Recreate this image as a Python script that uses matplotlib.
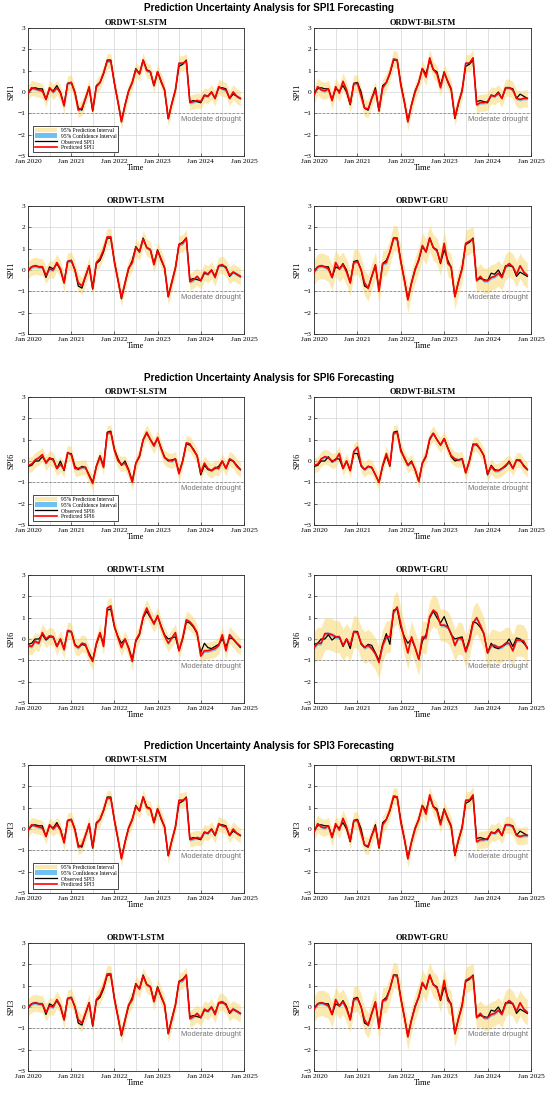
import matplotlib
matplotlib.use('Agg')
import matplotlib.pyplot as plt
import matplotlib.dates as mdates
import matplotlib.transforms as mtransforms
from matplotlib.patches import Patch
from matplotlib.lines import Line2D
import numpy as np
import pandas as pd

# ---------------- data ----------------
months = pd.date_range('2020-01-01', periods=60, freq='MS')

models = ['ORDWT-SLSTM', 'ORDWT-BiLSTM', 'ORDWT-LSTM', 'ORDWT-GRU']
sections = ['SPI1', 'SPI6', 'SPI3']

spi1_observed = [-0.05, 0.15, 0.2, 0.15, 0.15, -0.35, 0.15, 0.05, 0.3, 0.0, -0.6, 0.4,
                 0.45, 0.0, -0.75, -0.85, -0.3, 0.2, -0.9, 0.3, 0.45, 0.85, 1.5, 1.5,
                 0.4, -0.5, -1.35, -0.6, 0.05, 0.45, 1.1, 0.85, 1.5, 1.05, 0.95, 0.3,
                 0.95, 0.45, 0.1, -1.25, -0.55, 0.1, 1.2, 1.3, 1.5, -0.45, -0.4, -0.45,
                 -0.5, -0.15, -0.2, 0.0, -0.3, 0.2, 0.2, 0.15, -0.3, -0.1, -0.2, -0.3]
spi1_pred_slstm = [-0.05, 0.2, 0.15, 0.1, 0.05, -0.35, 0.2, 0.0, 0.2, -0.05, -0.65, 0.4,
                   0.45, -0.05, -0.85, -0.75, -0.3, 0.25, -0.85, 0.25, 0.45, 0.9, 1.45, 1.45,
                   0.4, -0.5, -1.4, -0.6, 0.05, 0.45, 1.05, 0.85, 1.5, 1.0, 0.95, 0.3,
                   0.95, 0.5, 0.1, -1.25, -0.55, 0.1, 1.35, 1.35, 1.45, -0.5, -0.45, -0.4,
                   -0.45, -0.15, -0.2, 0.0, -0.3, 0.25, 0.15, 0.1, -0.3, 0.0, -0.2, -0.3]
spi1_pred_bilstm = [-0.15, 0.25, 0.1, 0.05, 0.15, -0.4, 0.25, -0.05, 0.5, 0.1, -0.55, 0.4,
                    0.4, -0.2, -0.75, -0.8, -0.3, 0.1, -0.85, 0.2, 0.45, 0.9, 1.55, 1.5,
                    0.3, -0.5, -1.4, -0.6, 0.0, 0.45, 1.1, 0.7, 1.6, 1.05, 0.85, 0.2,
                    0.9, 0.5, 0.15, -1.2, -0.5, 0.05, 1.35, 1.35, 1.6, -0.6, -0.5, -0.5,
                    -0.45, -0.15, -0.2, -0.05, -0.3, 0.2, 0.2, 0.1, -0.3, -0.35, -0.3, -0.3]
spi1_pred_lstm = [0.0, 0.15, 0.2, 0.15, 0.15, -0.25, 0.05, 0.0, 0.35, 0.05, -0.6, 0.4,
                  0.45, 0.0, -0.6, -0.75, -0.3, 0.2, -0.85, 0.35, 0.55, 0.95, 1.55, 1.55,
                  0.35, -0.5, -1.3, -0.6, 0.1, 0.35, 1.05, 0.85, 1.45, 1.05, 0.95, 0.25,
                  0.9, 0.5, 0.1, -1.25, -0.6, 0.1, 1.2, 1.25, 1.5, -0.55, -0.45, -0.3,
                  -0.5, -0.1, -0.2, 0.0, -0.35, 0.2, 0.25, 0.1, -0.25, -0.1, -0.2, -0.3]
spi1_pred_gru = [-0.1, 0.15, 0.2, 0.15, 0.05, -0.35, 0.35, 0.05, 0.25, -0.1, -0.6, 0.35,
                 0.4, 0.0, -0.6, -0.85, -0.3, 0.25, -1.0, 0.3, 0.35, 0.85, 1.5, 1.45,
                 0.4, -0.5, -1.4, -0.6, 0.0, 0.5, 1.15, 0.85, 1.5, 1.05, 0.9, 0.35,
                 1.25, 0.3, 0.15, -1.25, -0.55, 0.05, 1.25, 1.35, 1.45, -0.5, -0.3, -0.5,
                 -0.5, -0.35, -0.3, -0.15, -0.35, 0.15, 0.3, 0.15, -0.2, 0.2, -0.1, -0.25]

spi6_observed = [-0.25, -0.2, 0.0, 0.0, 0.2, -0.05, 0.1, 0.1, -0.35, 0.0, -0.45, 0.35,
                 0.35, -0.25, -0.4, -0.25, -0.3, -0.65, -1.0, -0.25, 0.25, -0.25, 1.35, 1.4,
                 0.55, 0.1, -0.2, 0.0, -0.4, -0.95, -0.1, 0.2, 1.0, 1.3, 1.0, 0.75,
                 1.05, 0.6, 0.2, 0.0, 0.05, 0.1, -0.55, 0.0, 0.8, 0.75, 0.55, 0.25,
                 -0.65, -0.2, -0.4, -0.45, -0.35, -0.25, 0.0, -0.35, 0.05, 0.0, -0.2, -0.4]
spi6_pred_slstm = [-0.2, -0.15, 0.05, 0.15, 0.3, -0.1, 0.15, 0.05, -0.35, -0.15, -0.4, 0.4,
                   0.3, -0.35, -0.35, -0.3, -0.3, -0.7, -1.05, -0.25, 0.2, -0.3, 1.3, 1.35,
                   0.5, 0.0, -0.15, -0.1, -0.45, -1.0, -0.1, 0.25, 1.0, 1.35, 1.0, 0.7,
                   1.1, 0.55, 0.15, 0.05, 0.0, 0.1, -0.6, 0.0, 0.85, 0.8, 0.5, 0.25,
                   -0.55, -0.1, -0.35, -0.45, -0.3, -0.35, 0.0, -0.35, 0.1, 0.0, -0.25, -0.4]
spi6_pred_bilstm = [-0.2, -0.15, 0.1, 0.2, 0.15, 0.0, 0.05, 0.35, -0.35, 0.0, -0.45, 0.45,
                    0.65, -0.2, -0.4, -0.25, -0.3, -0.65, -1.0, -0.2, 0.35, -0.2, 1.3, 1.35,
                    0.45, 0.15, -0.2, -0.05, -0.4, -0.95, -0.1, 0.25, 1.05, 1.3, 1.0, 0.75,
                    1.05, 0.6, 0.25, 0.1, 0.05, 0.1, -0.55, 0.0, 0.75, 0.8, 0.55, 0.25,
                    -0.6, -0.25, -0.45, -0.45, -0.35, -0.2, -0.05, -0.35, 0.05, 0.05, -0.25, -0.4]
spi6_pred_lstm = [-0.3, -0.35, -0.1, -0.2, 0.3, 0.0, 0.15, 0.1, -0.35, 0.0, -0.5, 0.4,
                  0.35, -0.3, -0.4, -0.2, -0.25, -0.75, -1.05, -0.2, 0.3, -0.35, 1.45, 1.55,
                  0.6, 0.05, -0.4, 0.0, -0.45, -1.05, -0.05, 0.25, 1.05, 1.45, 1.05, 0.7,
                  1.1, 0.55, 0.15, -0.2, 0.05, 0.3, -0.55, 0.05, 0.9, 0.8, 0.6, 0.3,
                  -0.8, -0.55, -0.55, -0.5, -0.45, -0.3, 0.2, -0.55, 0.2, 0.0, -0.2, -0.35]
spi6_pred_gru = [-0.4, -0.2, -0.2, 0.25, 0.25, 0.2, 0.1, 0.1, -0.3, 0.0, -0.3, 0.35,
                 0.3, -0.2, -0.4, -0.3, -0.45, -0.7, -1.1, -0.3, 0.1, 0.1, 1.25, 1.5,
                 0.7, -0.05, -0.65, 0.1, -0.4, -0.95, 0.1, 0.05, 1.05, 1.35, 1.2, 0.65,
                 0.65, 0.55, 0.25, -0.3, 0.05, 0.0, -0.6, -0.1, 0.75, 1.0, 0.65, 0.25,
                 -0.65, -0.3, -0.3, -0.4, -0.35, -0.2, -0.2, -0.55, -0.05, -0.05, -0.1, -0.45]

spi3_observed = [-0.05, 0.15, 0.2, 0.15, 0.15, -0.35, 0.15, 0.05, 0.3, 0.0, -0.6, 0.4,
                 0.45, 0.0, -0.75, -0.85, -0.3, 0.2, -0.9, 0.3, 0.45, 0.85, 1.5, 1.5,
                 0.4, -0.5, -1.35, -0.6, 0.05, 0.45, 1.1, 0.85, 1.5, 1.05, 0.95, 0.3,
                 0.95, 0.45, 0.1, -1.25, -0.55, 0.1, 1.2, 1.3, 1.5, -0.45, -0.4, -0.45,
                 -0.5, -0.15, -0.2, 0.0, -0.3, 0.2, 0.2, 0.15, -0.3, -0.1, -0.2, -0.3]
spi3_pred_slstm = [-0.05, 0.2, 0.15, 0.1, 0.05, -0.35, 0.2, 0.0, 0.2, -0.05, -0.65, 0.4,
                   0.45, -0.05, -0.85, -0.75, -0.3, 0.25, -0.85, 0.25, 0.45, 0.9, 1.45, 1.45,
                   0.4, -0.5, -1.4, -0.6, 0.05, 0.45, 1.05, 0.85, 1.5, 1.0, 0.95, 0.3,
                   0.95, 0.5, 0.1, -1.25, -0.55, 0.1, 1.35, 1.35, 1.45, -0.5, -0.45, -0.4,
                   -0.45, -0.15, -0.2, 0.0, -0.3, 0.25, 0.15, 0.1, -0.3, 0.0, -0.2, -0.3]
spi3_pred_bilstm = [-0.15, 0.25, 0.1, 0.05, 0.15, -0.4, 0.25, -0.05, 0.5, 0.1, -0.55, 0.4,
                    0.4, -0.2, -0.75, -0.8, -0.3, 0.1, -0.85, 0.2, 0.45, 0.9, 1.55, 1.5,
                    0.3, -0.5, -1.4, -0.6, 0.0, 0.45, 1.1, 0.7, 1.6, 1.05, 0.85, 0.2,
                    0.9, 0.5, 0.15, -1.2, -0.5, 0.05, 1.35, 1.35, 1.6, -0.6, -0.5, -0.5,
                    -0.45, -0.15, -0.2, -0.05, -0.3, 0.2, 0.2, 0.1, -0.3, -0.35, -0.3, -0.3]
spi3_pred_lstm = [0.0, 0.15, 0.2, 0.15, 0.15, -0.25, 0.05, 0.0, 0.35, 0.05, -0.6, 0.4,
                  0.45, 0.0, -0.6, -0.75, -0.3, 0.2, -0.85, 0.35, 0.55, 0.95, 1.55, 1.55,
                  0.35, -0.5, -1.3, -0.6, 0.1, 0.35, 1.05, 0.85, 1.45, 1.05, 0.95, 0.25,
                  0.9, 0.5, 0.1, -1.25, -0.6, 0.1, 1.2, 1.25, 1.5, -0.55, -0.45, -0.3,
                  -0.5, -0.1, -0.2, 0.0, -0.35, 0.2, 0.25, 0.1, -0.25, -0.1, -0.2, -0.3]
spi3_pred_gru = [-0.1, 0.15, 0.2, 0.15, 0.05, -0.35, 0.35, 0.05, 0.25, -0.1, -0.6, 0.35,
                 0.4, 0.0, -0.6, -0.85, -0.3, 0.25, -1.0, 0.3, 0.35, 0.85, 1.5, 1.45,
                 0.4, -0.5, -1.4, -0.6, 0.0, 0.5, 1.15, 0.85, 1.5, 1.05, 0.9, 0.35,
                 1.25, 0.3, 0.15, -1.25, -0.55, 0.05, 1.25, 1.35, 1.45, -0.5, -0.3, -0.5,
                 -0.5, -0.35, -0.3, -0.15, -0.35, 0.15, 0.3, 0.15, -0.2, 0.2, -0.1, -0.25]

# half-widths of the 95% prediction / confidence intervals (per model)
pi_half = {'SPI1': [0.35, 0.4, 0.4, 0.6], 'SPI6': [0.35, 0.35, 0.4, 0.75], 'SPI3': [0.35, 0.4, 0.4, 0.6]}
ci_half = {'SPI1': [0.07, 0.07, 0.08, 0.08], 'SPI6': [0.07, 0.07, 0.08, 0.09], 'SPI3': [0.07, 0.07, 0.08, 0.08]}

observed = {'SPI1': spi1_observed, 'SPI6': spi6_observed, 'SPI3': spi3_observed}
predicted = {
    'SPI1': [spi1_pred_slstm, spi1_pred_bilstm, spi1_pred_lstm, spi1_pred_gru],
    'SPI6': [spi6_pred_slstm, spi6_pred_bilstm, spi6_pred_lstm, spi6_pred_gru],
    'SPI3': [spi3_pred_slstm, spi3_pred_bilstm, spi3_pred_lstm, spi3_pred_gru],
}

# ---------------- style ----------------
SERIF = 'Liberation Serif'
SANS = 'Liberation Sans'
PI_COLOR = '#F8D563'
PI_ALPHA = 0.5
CI_COLOR = '#6EC1F0'

W, H = 550, 1096
fig = plt.figure(figsize=(W / 100, H / 100), dpi=100)

col_x = [(28, 244), (314, 531)]
section_top = [28, 397, 765]
row_step = 178
ax_h = 128
title_y = [8, 378, 746]


def px_axes(x0, x1, ytop, ybot):
    return fig.add_axes([x0 / W, 1 - ybot / H, (x1 - x0) / W, (ybot - ytop) / H])


for s, spi in enumerate(sections):
    fig.text(0.49, 1 - title_y[s] / H, f'Prediction Uncertainty Analysis for {spi} Forecasting',
             ha='center', va='center', fontsize=7.2, fontweight='bold', family=SANS)
    obs = np.array(observed[spi])
    for m, model in enumerate(models):
        r, c = divmod(m, 2)
        ytop = section_top[s] + r * row_step
        ax = px_axes(col_x[c][0], col_x[c][1], ytop, ytop + ax_h)
        pred = np.array(predicted[spi][m])
        pw = pi_half[spi][m]
        cw = ci_half[spi][m]
        ax.fill_between(months, pred - pw, pred + pw, color=PI_COLOR, alpha=PI_ALPHA, lw=0, zorder=1)
        ax.fill_between(months, pred - cw, pred + cw, color=CI_COLOR, alpha=0.85, lw=0, zorder=2)
        ax.plot(months, obs, color='black', lw=0.9, zorder=3)
        ax.plot(months, pred, color='#FF0000', lw=1.2, zorder=4)
        ax.axhline(-1, color='0.55', ls='--', lw=0.6, dashes=(3, 2), zorder=2)
        trans = mtransforms.blended_transform_factory(ax.transAxes, ax.transData)
        ax.text(0.985, -1.28, 'Moderate drought', transform=trans, ha='right', va='center',
                fontsize=5.4, color='0.45', family=SANS)

        ax.set_xlim(pd.Timestamp('2020-01-01'), pd.Timestamp('2025-01-01'))
        ax.set_ylim(-3, 3)
        ax.set_yticks([-3, -2, -1, 0, 1, 2, 3])
        ax.xaxis.set_major_locator(mdates.MonthLocator(bymonth=[1]))
        ax.xaxis.set_major_formatter(mdates.DateFormatter('%b %Y'))
        ax.xaxis.set_minor_locator(mdates.MonthLocator(bymonth=[7]))
        ax.grid(True, which='both', color='0.83', lw=0.5, zorder=0)
        ax.set_axisbelow(True)
        ax.tick_params(which='both', direction='in', length=2, width=0.5, color='0.2',
                       labelsize=5.4, pad=2)
        ax.tick_params(which='minor', length=0)
        for lab in ax.get_xticklabels() + ax.get_yticklabels():
            lab.set_family(SERIF)
        for sp in ax.spines.values():
            sp.set_linewidth(0.6)
            sp.set_color('0.15')
        ax.set_title(model, fontsize=6, fontweight='bold', family=SERIF, pad=2)
        ax.set_xlabel('Time', fontsize=6, family=SERIF, labelpad=0.5)
        ax.set_ylabel(spi, fontsize=6, family=SERIF, labelpad=1)

        if m == 0:
            handles = [Patch(facecolor=PI_COLOR, alpha=PI_ALPHA, edgecolor='none'),
                       Patch(facecolor=CI_COLOR, edgecolor='none'),
                       Line2D([], [], color='black', lw=0.9),
                       Line2D([], [], color='#FF0000', lw=1.2)]
            labels = ['95% Prediction Interval', '95% Confidence Interval',
                      f'Observed {spi}', f'Predicted {spi}']
            leg = ax.legend(handles, labels, loc='lower left', bbox_to_anchor=(0.025, 0.03),
                            prop={'family': SERIF, 'size': 4}, frameon=True, fancybox=False,
                            edgecolor='black', framealpha=1, handlelength=4.0, handleheight=0.9,
                            borderpad=0.3, labelspacing=0.12, handletextpad=0.6, borderaxespad=0)
            leg.get_frame().set_linewidth(0.5)

fig.savefig('out.png', dpi=100)
